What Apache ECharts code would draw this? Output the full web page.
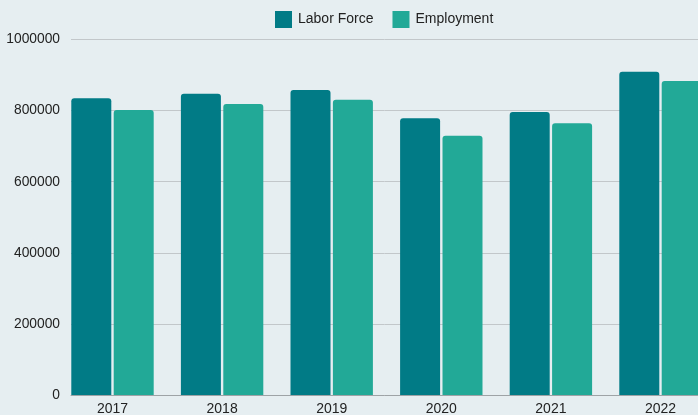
<!DOCTYPE html>
<html><head><meta charset="utf-8">
<script src="https://cdn.jsdelivr.net/npm/echarts@6/dist/echarts.min.js"></script>
<style>html,body{margin:0;padding:0;background:#e6eef1;}#c{width:698px;height:415px;}</style>
</head><body><div id="c"></div>
<script>
const years = ['2017','2018','2019','2020','2021','2022'];
const laborForce = [835000, 847500, 858000, 778500, 796000, 909500];
const employment = [802000, 818500, 830500, 729500, 764500, 883500];
const seriesNames = ['Labor Force', 'Employment'];
const yMin = 0, yMax = 1000000, yStep = 200000;

const FONT = 'Arial, "Liberation Sans", sans-serif';
const chart = echarts.init(document.getElementById('c'), null, {renderer:'canvas'});
chart.setOption({
  backgroundColor: '#e6eef1',
  animation: false,
  textStyle: {fontFamily: FONT},
  legend: {
    data: seriesNames, left: 275, top: 11, padding: 0, itemWidth: 17, itemHeight: 17, itemGap: 19,
    icon: 'rect',
    textStyle: {fontFamily: FONT, fontSize: 14, color: '#222', padding: [0,0,0,1]}
  },
  grid: [
    {left: 71, right: 0, top: 39.5, height: 355.5, containLabel: false, outerBoundsMode: 'none'},
    {left: 57.7, width: 657.6, top: 39.5, height: 355.5, containLabel: false, outerBoundsMode: 'none'}
  ],
  xAxis: [
    {gridIndex: 0, type: 'value', min: 0, max: 1, axisLabel: {show: false}, axisTick: {show: false},
     splitLine: {show: false}, axisLine: {show: true, lineStyle: {color: '#9ea3a6', width: 1}}},
    {gridIndex: 1, type: 'category', data: years, axisLine: {show: false}, axisTick: {show: false},
     axisLabel: {fontFamily: FONT, fontSize: 14, color: '#222', margin: 7}}
  ],
  yAxis: [
    {gridIndex: 0, type: 'value', min: yMin, max: yMax, interval: yStep,
     axisLine: {show: false}, axisTick: {show: false},
     axisLabel: {fontFamily: FONT, fontSize: 13.8, color: '#222', margin: 11, formatter: v => String(v)},
     splitLine: {lineStyle: {color: '#c2c7ca', width: 1}}},
    {gridIndex: 1, type: 'value', min: yMin, max: yMax, show: false, splitLine: {show: false}}
  ],
  series: [
    {name: seriesNames[0], type: 'bar', xAxisIndex: 1, yAxisIndex: 1, data: laborForce,
     barWidth: 40, barGap: '6%', itemStyle: {color: '#017b86', borderRadius: [3,3,0,0]}},
    {name: seriesNames[1], type: 'bar', xAxisIndex: 1, yAxisIndex: 1, data: employment,
     barWidth: 40, barGap: '6%', itemStyle: {color: '#22a997', borderRadius: [3,3,0,0]}}
  ]
});
</script></body></html>
